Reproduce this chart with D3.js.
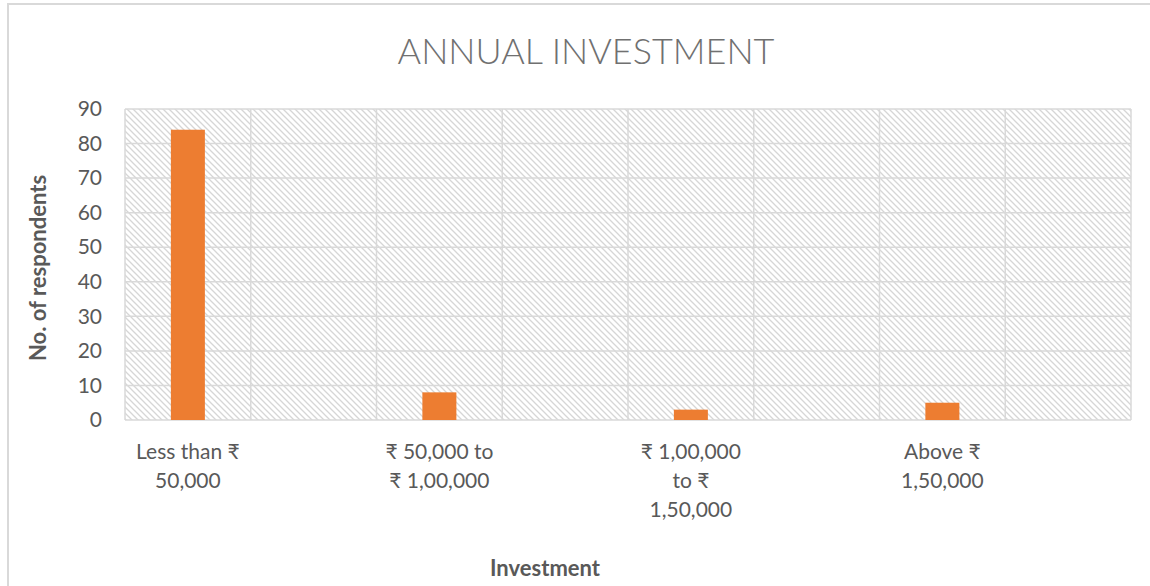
<!DOCTYPE html>
<html>
<head>
<meta charset="utf-8">
<script src="https://cdn.jsdelivr.net/npm/d3@7"></script>
<style>
  body { margin: 0; background: #fff; }
  svg text { font-family: Lato, "Noto Sans", "DejaVu Sans", sans-serif; }
</style>
</head>
<body>
<div id="chart"></div>
<script>
// chart values (blank slots keep the same spacing as the original sheet)
const categories = ["Less than ₹|50,000", "", "₹ 50,000 to|₹ 1,00,000", "", "₹ 1,00,000|to ₹|1,50,000", "", "Above ₹|1,50,000", ""];
const respondents = [84, null, 8, null, 3, null, 5, null];
const yTicks = [0, 10, 20, 30, 40, 50, 60, 70, 80, 90];

const width = 1150, height = 586;
const margin = {top: 109, right: 19, bottom: 166, left: 125};

let svg = d3.select("#chart").append("svg")
    .attr("width", width)
    .attr("height", height);

// hatch fill of the plot area
let defs = svg.append("defs");
let pat = defs.append("pattern")
    .attr("id", "hatch")
    .attr("patternUnits", "userSpaceOnUse")
    .attr("width", 6).attr("height", 6);
pat.append("rect").attr("width", 6).attr("height", 6).attr("fill", "#fff");
pat.append("path")
    .attr("d", "M-1,-1 L7,7 M-4,2 L2,8 M4,-2 L8,2")
    .attr("stroke", "#d6d6d6")
    .attr("stroke-width", 1.3);

// outer chart border
svg.append("rect")
    .attr("x", 8).attr("y", 4)
    .attr("width", width + 10).attr("height", height + 10)
    .attr("fill", "none")
    .attr("stroke", "#d9d9d9")
    .attr("stroke-width", 2);

let plotW = width - margin.left - margin.right;
let plotH = height - margin.top - margin.bottom;

let x = d3.scaleBand()
    .domain(d3.range(categories.length))
    .range([margin.left, margin.left + plotW]);

let y = d3.scaleLinear()
    .domain([0, 90])
    .range([margin.top + plotH, margin.top]);

svg.append("rect")
    .attr("x", margin.left).attr("y", margin.top)
    .attr("width", plotW).attr("height", plotH)
    .attr("fill", "url(#hatch)");

// horizontal gridlines
svg.append("g").selectAll("line").data(yTicks).enter().append("line")
    .attr("x1", margin.left).attr("x2", margin.left + plotW)
    .attr("y1", d => y(d)).attr("y2", d => y(d))
    .attr("stroke", "#d9d9d9").attr("stroke-width", 1.5);

// vertical gridlines
let vlines = d3.range(categories.length + 1).map(i => margin.left + i * x.bandwidth());
svg.append("g").selectAll("line").data(vlines).enter().append("line")
    .attr("x1", d => d).attr("x2", d => d)
    .attr("y1", margin.top).attr("y2", margin.top + plotH)
    .attr("stroke", "#d9d9d9").attr("stroke-width", 1.5);

// y axis labels
let yAxis = svg.append("g")
    .attr("transform", "translate(" + (margin.left - 23) + ",0)")
    .call(d3.axisLeft(y).tickValues(yTicks).tickSize(0).tickPadding(0));
yAxis.select(".domain").remove();
yAxis.selectAll("text")
    .attr("fill", "#595959")
    .style("font-size", "21px");

// bars
let barW = 34;
let barData = respondents.map((v, i) => ({i: i, v: v})).filter(d => d.v != null);
svg.append("g").selectAll("rect").data(barData).enter().append("rect")
    .attr("x", d => x(d.i) + x.bandwidth() / 2 - barW / 2)
    .attr("width", barW)
    .attr("y", d => y(d.v))
    .attr("height", d => y(0) - y(d.v))
    .attr("fill", "#ED7D31");

// category labels, wrapped on "|"
let catG = svg.append("g");
categories.forEach((c, i) => {
    if (!c) return;
    let t = catG.append("text")
        .attr("text-anchor", "middle")
        .attr("fill", "#595959")
        .style("font-size", "21px");
    c.split("|").forEach((line, j) => {
        t.append("tspan")
            .attr("x", x(i) + x.bandwidth() / 2)
            .attr("y", 459 + j * 29)
            .text(line);
    });
});

// title
svg.append("text")
    .attr("x", 586).attr("y", 64)
    .attr("text-anchor", "middle")
    .attr("fill", "#707070")
    .style("font-size", "36px")
    .style("font-weight", 300)
    .text("ANNUAL INVESTMENT");

// axis titles
svg.append("text")
    .attr("transform", "translate(46,268) rotate(-90)")
    .attr("text-anchor", "middle")
    .attr("fill", "#595959")
    .style("font-size", "22px")
    .style("font-weight", "bold")
    .text("No. of respondents");

svg.append("text")
    .attr("x", 545).attr("y", 576)
    .attr("text-anchor", "middle")
    .attr("fill", "#595959")
    .style("font-size", "22px")
    .style("font-weight", "bold")
    .text("Investment");
</script>
</body>
</html>
